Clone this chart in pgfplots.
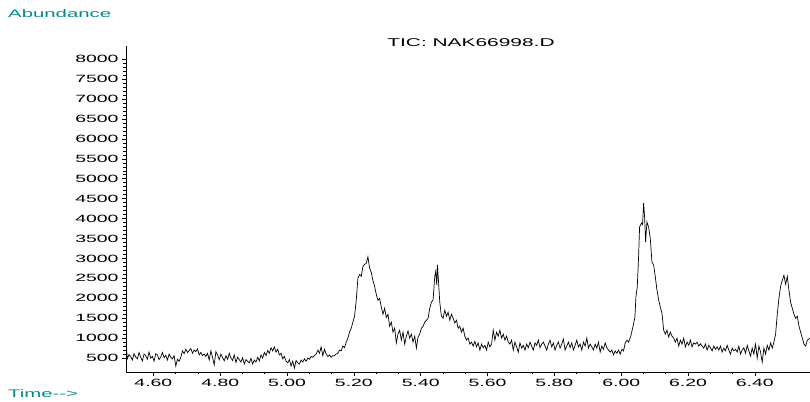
\documentclass[border=0pt]{standalone}
\usepackage{fontspec}
\setmainfont{Liberation Sans}[FakeStretch=1.85]
\usepackage{pgfplots}
\pgfplotsset{compat=1.18}
\definecolor{teal1}{RGB}{0,139,139}
\begin{document}
\begin{tikzpicture}
\useasboundingbox (-126pt,-29pt) rectangle (684pt,372pt);
\begin{axis}[
  at={(0,0)}, anchor=south west, scale only axis,
  width=684pt, height=326pt,
  xmin=4.518, xmax=6.565, ymin=150, ymax=8333,
  axis lines=left, axis line style={-, line width=0.8pt},
  tick align=outside,
  major tick length=4pt, minor tick length=2.5pt,
  tick style={line width=0.6pt, black},
  xtick={4.6,4.8,5.0,5.2,5.4,5.6,5.8,6.0,6.2,6.4},
  minor x tick num=2,
  ytick={500,1000,1500,2000,2500,3000,3500,4000,4500,5000,5500,6000,6500,7000,7500,8000},
  minor y tick num=4,
  scaled ticks=false,
  /pgf/number format/assume math mode=true,
  /pgf/number format/1000 sep={},
  tick label style={font=\fontsize{10.5}{12}\selectfont},
  xticklabel style={/pgf/number format/.cd, fixed, fixed zerofill, precision=2},
  clip=true,
]
\addplot[black, line width=0.7pt] coordinates {
(4.518,850)(4.520,700)(4.522,480)(4.527,590)(4.532,540)(4.537,450)(4.542,610)(4.547,530)(4.552,480)(4.557,640)
(4.562,520)(4.567,430)(4.572,600)(4.577,560)(4.582,470)(4.587,650)(4.592,500)(4.597,540)(4.602,420)(4.607,610)
(4.612,580)(4.617,460)(4.622,530)(4.627,640)(4.632,510)(4.637,570)(4.642,450)(4.647,600)(4.652,520)(4.657,480)
(4.662,560)(4.667,300)(4.672,470)(4.677,420)(4.682,520)(4.687,680)(4.692,610)(4.697,720)(4.702,640)(4.707,690)
(4.712,740)(4.717,620)(4.722,700)(4.727,660)(4.732,730)(4.737,580)(4.742,640)(4.747,560)(4.752,600)(4.757,540)
(4.762,620)(4.767,450)(4.772,680)(4.777,520)(4.782,330)(4.787,660)(4.792,580)(4.797,460)(4.802,600)(4.807,510)
(4.812,430)(4.817,560)(4.822,470)(4.827,620)(4.832,500)(4.837,440)(4.842,580)(4.847,390)(4.852,520)(4.857,460)
(4.862,400)(4.867,510)(4.872,350)(4.877,460)(4.882,420)(4.887,380)(4.892,490)(4.897,350)(4.902,450)(4.907,400)
(4.912,520)(4.917,430)(4.922,580)(4.927,500)(4.932,640)(4.937,560)(4.942,690)(4.947,620)(4.952,760)(4.957,680)
(4.962,780)(4.967,650)(4.972,720)(4.977,580)(4.982,620)(4.987,480)(4.992,540)(4.997,420)(5.002,380)(5.007,460)
(5.012,300)(5.017,420)(5.022,250)(5.027,440)(5.032,380)(5.037,350)(5.042,450)(5.047,400)(5.052,480)(5.057,420)
(5.062,500)(5.067,470)(5.072,540)(5.077,520)(5.082,560)(5.087,600)(5.092,700)(5.097,620)(5.102,780)(5.107,560)
(5.112,720)(5.117,600)(5.122,540)(5.127,580)(5.132,520)(5.137,560)(5.142,560)(5.147,600)(5.152,620)(5.157,700)
(5.162,680)(5.167,800)(5.172,760)(5.177,900)(5.182,1000)(5.187,1150)(5.192,1250)(5.197,1400)(5.202,1550)(5.207,1950)
(5.212,2500)(5.217,2600)(5.222,2550)(5.227,2800)(5.232,2850)(5.237,2880)(5.242,3040)(5.247,2760)(5.252,2650)(5.257,2450)
(5.262,2300)(5.267,2100)(5.272,1950)(5.277,2000)(5.282,1780)(5.287,1600)(5.292,1750)(5.297,1520)(5.302,1600)(5.307,1300)
(5.312,1400)(5.317,1150)(5.322,1250)(5.327,880)(5.332,1100)(5.337,1200)(5.342,950)(5.347,1150)(5.352,850)(5.357,1050)
(5.362,1180)(5.367,1000)(5.372,1100)(5.377,900)(5.382,1050)(5.387,750)(5.392,1030)(5.397,1100)(5.402,1250)(5.407,1300)
(5.412,1400)(5.417,1450)(5.422,1500)(5.427,1750)(5.432,1900)(5.437,1960)(5.442,2550)(5.445,2680)(5.448,2330)(5.450,2840)
(5.453,2460)(5.457,1900)(5.462,1550)
(5.467,1500)(5.472,1700)(5.477,1550)(5.482,1650)(5.487,1450)(5.492,1600)(5.497,1500)(5.502,1380)(5.507,1450)(5.512,1250)
(5.517,1300)(5.522,1150)(5.527,1250)(5.532,1050)(5.537,950)(5.542,1000)(5.547,850)(5.552,900)(5.557,800)(5.562,920)
(5.567,780)(5.572,880)(5.577,700)(5.582,850)(5.587,760)(5.592,820)(5.597,700)(5.602,900)(5.607,780)(5.612,850)
(5.617,1200)(5.622,950)(5.627,1150)(5.632,1050)(5.637,1200)(5.642,1000)(5.647,1100)(5.652,950)(5.657,1050)(5.662,900)
(5.667,850)(5.672,950)(5.677,700)(5.682,900)(5.687,780)(5.692,650)(5.697,880)(5.702,750)(5.707,820)(5.712,700)
(5.717,850)(5.722,760)(5.727,900)(5.732,800)(5.737,700)(5.742,880)(5.747,820)(5.752,950)(5.757,760)(5.762,850)
(5.767,900)(5.772,800)(5.777,700)(5.782,850)(5.787,950)(5.792,780)(5.797,880)(5.802,700)(5.807,820)(5.812,900)
(5.817,750)(5.822,850)(5.827,980)(5.832,700)(5.837,800)(5.842,900)(5.847,760)(5.852,880)(5.857,700)(5.862,820)
(5.867,950)(5.872,780)(5.877,850)(5.882,700)(5.887,900)(5.892,800)(5.897,1000)(5.902,750)(5.907,850)(5.912,780)
(5.917,700)(5.922,850)(5.927,750)(5.932,900)(5.937,650)(5.942,800)(5.947,720)(5.952,880)(5.957,760)(5.962,700)
(5.967,650)(5.972,700)(5.977,580)(5.982,680)(5.987,620)(5.992,700)(5.997,600)(6.002,720)(6.007,680)(6.012,880)
(6.017,950)(6.022,900)(6.028,1030)(6.035,1280)(6.041,1530)(6.044,2030)(6.048,2280)(6.052,3040)(6.055,3790)(6.061,3890)
(6.064,3850)(6.067,4390)(6.070,4040)(6.073,3410)(6.077,3915)(6.082,3790)(6.087,3500)(6.092,2910)(6.097,2840)(6.102,2540)
(6.107,2210)(6.112,1960)(6.117,1780)(6.122,1630)(6.127,1200)
(6.132,1100)(6.137,1200)(6.142,1030)(6.147,1150)(6.152,1050)(6.157,1000)
(6.162,900)(6.167,1000)(6.172,800)(6.177,950)(6.182,850)(6.187,1000)(6.192,780)(6.197,900)(6.202,820)(6.207,950)
(6.212,780)(6.217,880)(6.222,850)(6.227,900)(6.232,800)(6.237,860)
(6.242,800)(6.247,750)(6.252,850)(6.257,700)(6.262,820)(6.267,760)(6.272,680)(6.277,800)(6.282,720)(6.287,780)
(6.292,700)(6.297,800)(6.302,650)(6.307,750)(6.312,680)(6.317,820)(6.322,700)(6.327,600)(6.332,750)(6.337,680)
(6.342,720)(6.347,650)(6.352,800)(6.357,600)(6.362,700)(6.367,760)(6.372,620)(6.377,820)(6.382,680)(6.387,550)
(6.392,750)(6.397,600)(6.402,850)(6.407,500)(6.412,800)(6.417,650)(6.422,400)(6.427,750)(6.432,600)(6.437,820)
(6.442,700)(6.447,880)(6.452,750)(6.457,900)(6.462,1100)(6.467,1600)(6.472,2000)(6.477,2300)(6.482,2450)(6.487,2580)
(6.492,2350)(6.497,2550)(6.502,2200)(6.507,1900)(6.512,1750)(6.517,1600)(6.522,1500)(6.527,1550)(6.532,1300)(6.537,1150)
(6.542,1000)(6.547,850)(6.552,800)(6.557,950)(6.565,1000)
};
\end{axis}
\node[anchor=west, text=teal1, font=\fontsize{11}{13}\selectfont, inner sep=0pt] at (-118pt,358pt) {Abundance};
\node[font=\fontsize{11.3}{13}\selectfont, inner sep=0pt] at (345pt,329pt) {TIC: NAK66998.D};
\node[anchor=west, text=teal1, font=\fontsize{11}{13}\selectfont, inner sep=0pt] at (-118pt,-22pt) {Time-{}-{}>};
\end{tikzpicture}
\end{document}
